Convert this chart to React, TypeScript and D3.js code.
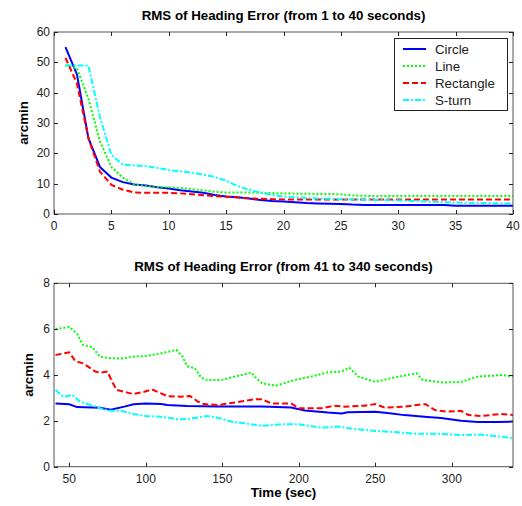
import React, { useEffect, useRef } from "react";
import * as d3 from "d3";

// top panel: 1 to 40 seconds, one sample per second
const earlySeconds = d3.range(1, 41);
const circleEarly = [55, 46, 25, 15.5, 12, 10.5, 9.7, 9.4, 8.8, 8.4, 7.8, 7.4, 7, 6.3, 5.8, 5.5, 5.1, 4.6, 4.3, 4.1,
  3.9, 3.6, 3.5, 3.4, 3.3, 3.1, 3.0, 3.0, 3.0, 3.0, 3.0, 3.0, 3.0, 3.0, 2.7, 2.7, 2.7, 2.7, 2.7, 2.7];
const lineEarly = [49, 48, 38, 24, 15.5, 12, 9.8, 9.2, 8.9, 8.8, 8.6, 8.2, 7.8, 7.3, 7.1, 7.1, 7.1, 7.0, 6.9, 6.8,
  6.7, 6.7, 6.6, 6.6, 6.5, 6.1, 6.0, 5.9, 5.9, 5.9, 5.9, 5.9, 5.9, 5.9, 5.9, 5.9, 5.9, 5.9, 5.9, 5.9];
const rectEarly = [51.5, 43, 25, 14, 9.6, 8, 7.1, 7, 7, 7, 6.8, 6.5, 6.2, 5.9, 5.7, 5.4, 5.2, 5, 4.9, 4.8,
  4.8, 4.8, 4.8, 4.8, 4.8, 4.8, 4.8, 4.8, 4.8, 4.8, 4.8, 4.8, 4.8, 4.8, 4.8, 4.8, 4.8, 4.8, 4.8, 4.8];
const sturnEarly = [49, 49, 48.9, 32, 19.5, 16.3, 16, 15.8, 15.2, 14.5, 14.1, 13.6, 13, 12.2, 11, 9.2, 8, 7.1, 6.3, 5.7,
  5.5, 5.3, 5.1, 5, 4.9, 4.8, 4.7, 4.6, 4.6, 4.5, 4.3, 4.2, 4.0, 3.9, 3.8, 3.7, 3.6, 3.6, 3.5, 3.5];

// bottom panel: 41 to 340 seconds
const circleLateT = [41, 50, 55, 70, 77, 86, 92, 100, 110, 114, 127, 147, 176, 195, 204, 219, 228, 232, 250, 258, 269, 284, 293, 306, 317, 330, 340];
const circleLate = [2.76, 2.72, 2.6, 2.57, 2.49, 2.62, 2.72, 2.76, 2.73, 2.69, 2.65, 2.63, 2.63, 2.58, 2.45, 2.36, 2.32, 2.37, 2.4, 2.34, 2.25, 2.17, 2.12, 2.0, 1.95, 1.95, 1.97];
const lineLateT = [41, 50, 55, 59, 65, 70, 77, 84, 92, 100, 110, 120, 124, 127, 132, 136, 140, 149, 158, 169, 171, 176, 185, 197, 208, 219, 228, 233, 239, 250, 263, 277, 281, 295, 306, 317, 333, 340];
const lineLate = [6.0, 6.1, 5.8, 5.3, 5.22, 4.8, 4.73, 4.72, 4.8, 4.83, 4.95, 5.09, 4.8, 4.38, 4.3, 3.9, 3.78, 3.78, 3.93, 4.1, 3.93, 3.64, 3.53, 3.78, 3.93, 4.12, 4.15, 4.32, 3.93, 3.7, 3.9, 4.07, 3.78, 3.67, 3.7, 3.93, 4.0, 3.93];
const rectLateT = [41, 50, 54, 59, 67, 70, 75, 78, 81, 88, 92, 99, 104, 110, 114, 123, 129, 134, 138, 147, 154, 162, 171, 176, 182, 195, 200, 215, 223, 230, 243, 250, 256, 269, 280, 283, 289, 297, 306, 311, 319, 332, 340];
const rectLate = [4.87, 4.99, 4.6, 4.51, 4.15, 4.1, 4.15, 3.71, 3.35, 3.23, 3.17, 3.27, 3.37, 3.2, 3.08, 3.05, 3.08, 2.84, 2.73, 2.69, 2.76, 2.84, 2.94, 2.94, 2.76, 2.76, 2.55, 2.55, 2.66, 2.62, 2.66, 2.73, 2.58, 2.62, 2.72, 2.72, 2.47, 2.4, 2.44, 2.25, 2.21, 2.3, 2.25];
const sturnLateT = [41, 46, 52, 57, 64, 70, 77, 84, 92, 100, 110, 121, 127, 140, 147, 156, 165, 176, 189, 200, 215, 226, 237, 250, 263, 276, 291, 306, 319, 332, 340];
const sturnLate = [3.35, 3.05, 3.13, 2.84, 2.69, 2.55, 2.44, 2.44, 2.3, 2.21, 2.18, 2.07, 2.08, 2.21, 2.14, 1.96, 1.89, 1.78, 1.85, 1.85, 1.7, 1.75, 1.64, 1.56, 1.51, 1.44, 1.44, 1.38, 1.4, 1.31, 1.24];

const seriesNames = ["Circle", "Line", "Rectangle", "S-turn"];
const colors = ["#0000ff", "#00ff00", "#ff0000", "#00ffff"];
const dashes = ["none", "2,2", "6,3", "6,2,2,2"];

const font = "'Liberation Sans', Arial, sans-serif";

const App = () => {
  const svgRef = useRef<SVGSVGElement>(null);
  const width = 522, height = 506;

  useEffect(() => {
    const svg = d3.select(svgRef.current);
    svg.selectAll("*").remove();

    const left = 54, right = 513;

    const drawPanel = (opts: any) => {
      const { x, y, top, bottom, xTicks, yTicks, title, series, yLabelX } = opts;
      const g = svg.append("g");

      // data lines
      const line = d3.line<[number, number]>().x(d => x(d[0])).y(d => y(d[1]));
      series.forEach((s: [number, number][], i: number) => {
        g.append("path")
          .datum(s)
          .attr("fill", "none")
          .attr("stroke", colors[i])
          .attr("stroke-width", 2)
          .attr("stroke-dasharray", dashes[i])
          .attr("d", line);
      });

      // box
      g.append("rect")
        .attr("x", left).attr("y", top)
        .attr("width", right - left).attr("height", bottom - top)
        .attr("fill", "none").attr("stroke", "#555").attr("stroke-width", 1);

      // ticks on all sides, pointing inward
      xTicks.forEach((t: number) => {
        const px = Math.round(x(t)) + 0.5;
        g.append("line").attr("x1", px).attr("x2", px).attr("y1", bottom).attr("y2", bottom - 4).attr("stroke", "#222");
        g.append("line").attr("x1", px).attr("x2", px).attr("y1", top).attr("y2", top + 4).attr("stroke", "#222");
        g.append("text").attr("x", x(t)).attr("y", bottom + 16)
          .attr("text-anchor", "middle").attr("font-size", 12).attr("fill", "#222")
          .attr("font-family", font).text(t);
      });
      yTicks.forEach((t: number) => {
        const py = Math.round(y(t)) + 0.5;
        g.append("line").attr("x1", left).attr("x2", left + 4).attr("y1", py).attr("y2", py).attr("stroke", "#222");
        g.append("line").attr("x1", right).attr("x2", right - 4).attr("y1", py).attr("y2", py).attr("stroke", "#222");
        g.append("text").attr("x", left - 4).attr("y", y(t) + 4)
          .attr("text-anchor", "end").attr("font-size", 12).attr("fill", "#222")
          .attr("font-family", font).text(t);
      });

      g.append("text")
        .attr("x", (left + right) / 2).attr("y", top - 12)
        .attr("text-anchor", "middle").attr("font-size", 13.3).attr("font-weight", "bold")
        .attr("font-family", font).text(title);

      g.append("text")
        .attr("transform", `translate(${yLabelX},${(top + bottom) / 2}) rotate(-90)`)
        .attr("text-anchor", "middle").attr("font-size", 13.3).attr("font-weight", "bold")
        .attr("font-family", font).text("arcmin");
    };

    // top panel
    const xTop = d3.scaleLinear().domain([0, 40]).range([left, right]);
    const yTop = d3.scaleLinear().domain([0, 60]).range([214, 32]);
    const earlyData = [circleEarly, lineEarly, rectEarly, sturnEarly]
      .map(vals => vals.map((v, i) => [earlySeconds[i], v] as [number, number]));
    drawPanel({
      x: xTop, y: yTop, top: 32, bottom: 214,
      xTicks: d3.range(0, 41, 5), yTicks: d3.range(0, 61, 10),
      title: "RMS of Heading Error (from 1 to 40 seconds)",
      series: earlyData, yLabelX: 28,
    });

    // legend
    const lg = svg.append("g");
    lg.append("rect").attr("x", 394.5).attr("y", 38.5).attr("width", 113).attr("height", 72)
      .attr("fill", "white").attr("stroke", "#222");
    seriesNames.forEach((name, i) => {
      const ly = 49 + i * 17;
      lg.append("line").attr("x1", 403).attr("x2", 426).attr("y1", ly).attr("y2", ly)
        .attr("stroke", colors[i]).attr("stroke-width", 2).attr("stroke-dasharray", dashes[i]);
      lg.append("text").attr("x", 435).attr("y", ly + 4.5)
        .attr("font-size", 13.3).attr("font-family", font).attr("fill", "#222").text(name);
    });

    // bottom panel
    const xBot = d3.scaleLinear().domain([40, 340]).range([left, right]);
    const yBot = d3.scaleLinear().domain([0, 8]).range([466.7, 283.3]);
    const lateData = [
      [circleLateT, circleLate], [lineLateT, lineLate], [rectLateT, rectLate], [sturnLateT, sturnLate],
    ].map(([ts, vs]) => ts.map((t, i) => [t, vs[i]] as [number, number]));
    drawPanel({
      x: xBot, y: yBot, top: 283.3, bottom: 466.7,
      xTicks: d3.range(50, 301, 50), yTicks: d3.range(0, 9, 2),
      title: "RMS of Heading Error (from 41 to 340 seconds)",
      series: lateData, yLabelX: 33,
    });

    svg.append("text")
      .attr("x", (left + right) / 2).attr("y", 497)
      .attr("text-anchor", "middle").attr("font-size", 13.3).attr("font-weight", "bold")
      .attr("font-family", font).text("Time (sec)");
  }, []);

  return (
    <svg ref={svgRef} width={width} height={height}
      style={{ position: "absolute", left: 0, top: 0, background: "white" }} />
  );
};

export default App;
